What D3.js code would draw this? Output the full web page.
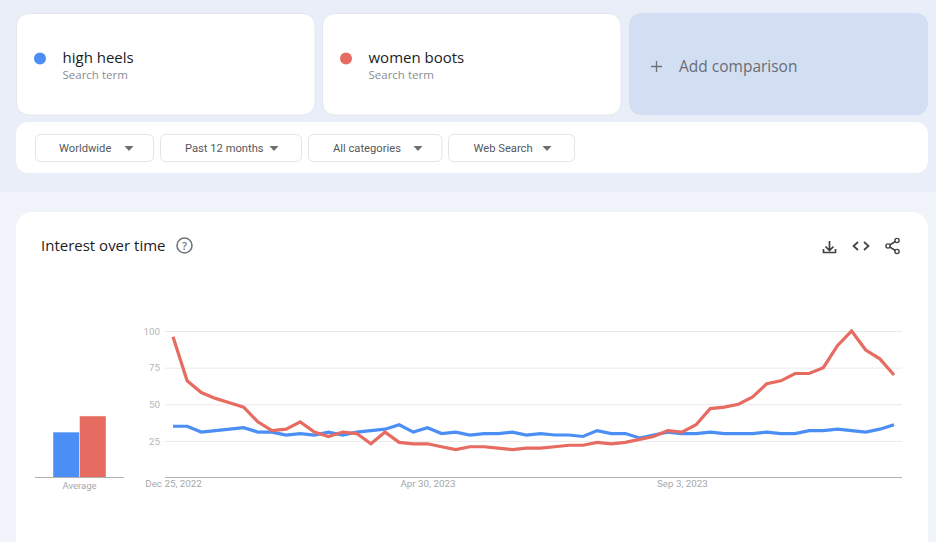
<!DOCTYPE html>
<html>
<head>
<meta charset="utf-8">
<script src="https://cdn.jsdelivr.net/npm/d3@7"></script>
<style>
    html, body { margin: 0; padding: 0; background: #f0f3f9; overflow: hidden; }
    svg { display: block; }
    text { font-family: "Open Sans", sans-serif; }
    .small text, text.small { font-family: Roboto, sans-serif; }
</style>
</head>
<body>
<div id="chart"></div>
<script>
// weekly values
const startDate = new Date(2022, 11, 25);
const highHeels = [35, 35, 31, 32, 33, 34, 31, 31, 29, 30, 29, 31, 29, 31, 32, 33, 36, 31, 34, 30, 31, 29, 30, 30, 31, 29, 30, 29, 29, 28, 32, 30, 30, 27, 29, 31, 30, 30, 31, 30, 30, 30, 31, 30, 30, 32, 32, 33, 32, 31, 33, 36];
const womenBoots = [96, 66, 58, 54, 51, 48, 38, 32, 33, 38, 31, 28, 31, 30, 23, 31, 24, 23, 23, 21, 19, 21, 21, 20, 19, 20, 20, 21, 22, 22, 24, 23, 24, 26, 28, 32, 31, 36, 47, 48, 50, 55, 64, 66, 71, 71, 75, 90, 100, 87, 81, 70];
const averages = [31, 42];
const terms = ["high heels", "women boots"];
const colors = ["#4b8ef5", "#e66b61"];
const yTicks = [25, 50, 75, 100];
const xTicks = [new Date(2022, 11, 25), new Date(2023, 3, 30), new Date(2023, 8, 3)];
const filters = ["Worldwide", "Past 12 months", "All categories", "Web Search"];

const width = 936, height = 542;

const svg = d3.select("#chart")
    .append("svg")
    .attr("width", width)
    .attr("height", height);

// page background
svg.append("rect").attr("width", width).attr("height", 192).attr("fill", "#e9eef8");
svg.append("rect").attr("y", 192).attr("width", width).attr("height", height - 192).attr("fill", "#f0f3f9");

function card(x, y, w, h, r, fill, stroke) {
    svg.append("rect")
        .attr("x", x).attr("y", y)
        .attr("width", w).attr("height", h)
        .attr("rx", r)
        .attr("fill", fill)
        .attr("stroke", stroke || "none");
}

function label(x, y, str, size, fill, anchor) {
    return svg.append("text")
        .attr("x", x).attr("y", y)
        .attr("font-size", size)
        .attr("fill", fill)
        .attr("text-anchor", anchor || "start")
        .text(str);
}

// search term cards
const cardX = [16.5, 322.5];
terms.forEach((term, i) => {
    card(cardX[i], 13.5, 298.5, 101.5, 12, "#fff", "#e3e6ec");
    svg.append("circle").attr("cx", cardX[i] + 23.5).attr("cy", 58.5).attr("r", 6).attr("fill", colors[i]);
    label(cardX[i] + 46, 62.5, term, 15, "#1b1c1f");
    label(cardX[i] + 46, 79, "Search term", 11.5, "#8a8d92");
});

// add comparison
card(629, 13, 299, 102, 12, "#d2dff2");
svg.append("path")
    .attr("d", "M651 66.5h11M656.5 61v11")
    .attr("stroke", "#6f7377").attr("stroke-width", 1.3).attr("fill", "none");
label(679, 72, "Add comparison", 15.5, "#6a6d73");

// filter bar
card(16, 122, 912, 51, 12, "#fff");
const buttonX = [35.5, 160.5, 308.5, 448.5];
const buttonW = [118, 141, 133.5, 126];
const textX = [59, 185, 333, 473.5];
const arrowX = [129, 274, 418, 547];
filters.forEach((f, i) => {
    card(buttonX[i], 134.5, buttonW[i], 27, 5, "#fff", "#e2e4e8");
    label(textX[i], 152, f, 11.2, "#55585c").attr("class", "small");
    svg.append("path")
        .attr("d", `M${arrowX[i] - 4.5} 146h9l-4.5 5z`)
        .attr("fill", "#6b6e72");
});

// chart card
card(16, 212, 912, 350, 16, "#fff");
label(41, 251, "Interest over time", 15, "#1f2024");
svg.append("circle").attr("cx", 184.5).attr("cy", 245.5).attr("r", 7.5)
    .attr("fill", "none").attr("stroke", "#70757a").attr("stroke-width", 1.6);
label(184.5, 249.5, "?", 11, "#70757a", "middle").attr("font-weight", 600);

// toolbar icons
svg.append("path")
    .attr("d", "M829.5 241v9M825.5 246.5l4 4 4-4M823.5 249v3.5h12V249")
    .attr("fill", "none").attr("stroke", "#3f4246").attr("stroke-width", 1.7);
svg.append("path")
    .attr("d", "M858 242l-4.5 4 4.5 4M864 242l4.5 4-4.5 4")
    .attr("fill", "none").attr("stroke", "#3f4246").attr("stroke-width", 1.7);
svg.append("path")
    .attr("d", "M897 240.5l-9 5.5 9 5.5")
    .attr("fill", "none").attr("stroke", "#3f4246").attr("stroke-width", 1.5);
[[897, 240.5], [888, 246], [897, 251.5]].forEach(p => {
    svg.append("circle").attr("cx", p[0]).attr("cy", p[1]).attr("r", 2.1)
        .attr("fill", "#fff").attr("stroke", "#3f4246").attr("stroke-width", 1.4);
});

// scales shared by the line and the bars
const y = d3.scaleLinear().domain([0, 100]).range([477.5, 331]);
const x = d3.scaleTime()
    .domain([startDate, d3.timeWeek.offset(startDate, highHeels.length - 1)])
    .range([173, 894]);

// y grid + labels
const yAxis = svg.append("g")
    .attr("class", "small")
    .attr("transform", "translate(165,0)")
    .call(d3.axisLeft(y).tickValues(yTicks).tickSize(-737).tickPadding(5));
yAxis.select(".domain").remove();
yAxis.selectAll("line").attr("stroke", "#e9e9e9");
yAxis.selectAll("text")
    .attr("fill", "#b5b7ba")
    .attr("font-size", 9.8);

// x axis
const xAxis = svg.append("g")
    .attr("class", "small")
    .attr("transform", "translate(0,477.5)")
    .call(d3.axisBottom(x).tickValues(xTicks).tickSize(0).tickPadding(3).tickFormat(d3.timeFormat("%b %-d, %Y")));
xAxis.select(".domain").remove();
xAxis.selectAll("text")
    .attr("fill", "#a5a7aa")
    .attr("font-size", 9.8);
svg.append("line")
    .attr("x1", 165).attr("x2", 902)
    .attr("y1", 477.5).attr("y2", 477.5)
    .attr("stroke", "#b0b0b0");

// lines
const line = d3.line()
    .x((d, i) => x(d3.timeWeek.offset(startDate, i)))
    .y(d => y(d));

[highHeels, womenBoots].forEach((series, i) => {
    svg.append("path")
        .datum(series)
        .attr("d", line)
        .attr("fill", "none")
        .attr("stroke", colors[i])
        .attr("stroke-width", 3.2);
});

// average bars
const xBar = d3.scaleBand().domain(terms).range([53, 106]);
svg.selectAll(".bar")
    .data(averages)
    .join("rect")
    .attr("class", "bar")
    .attr("x", (d, i) => xBar(terms[i]))
    .attr("y", d => y(d))
    .attr("width", xBar.bandwidth())
    .attr("height", d => y(0) - y(d))
    .attr("fill", (d, i) => colors[i])
    .attr("stroke", "#fff")
    .attr("stroke-opacity", 0.45);
svg.append("line")
    .attr("x1", 35).attr("x2", 124)
    .attr("y1", 477.5).attr("y2", 477.5)
    .attr("stroke", "#b0b0b0");
label(79.5, 488.5, "Average", 9.5, "#a5a7aa", "middle").attr("class", "small");
</script>
</body>
</html>
